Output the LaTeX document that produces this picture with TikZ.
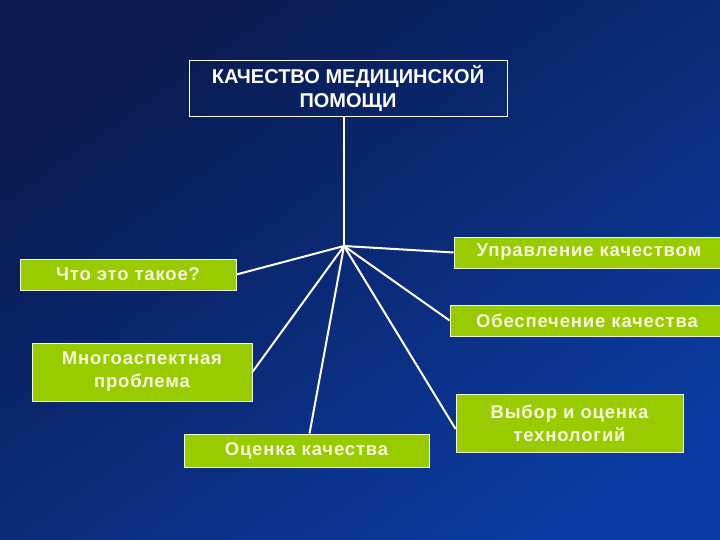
\documentclass[tikz,border=0pt]{standalone}
\usepackage{fontspec}
\setmainfont{Liberation Sans}
\newfontfamily\boxfont[LetterSpace=4.5]{Liberation Sans}
\definecolor{bgdark}{HTML}{0A1A4E}
\definecolor{bglight}{HTML}{0B3BA0}
\definecolor{leaf}{HTML}{99CC00}
\definecolor{leaftext}{HTML}{F6F6DC}
\tikzset{
  leafbox/.style={draw=white!85!leaf, line width=0.8pt, fill=leaf, text=leaftext,
    font=\boxfont\bfseries\fontsize{18.5}{23}\selectfont, align=center, inner sep=0pt},
  titlebox/.style={draw=white, line width=0.9pt, text=white,
    font=\bfseries\fontsize{20}{24}\selectfont, align=center, inner sep=0pt},
  link/.style={draw=white, line width=2pt}
}
\begin{document}
\begin{tikzpicture}[x=1pt,y=-1pt]
\shade[top color=bgdark, bottom color=bglight, shading angle=35] (0,0) rectangle (720,540);
\useasboundingbox (0,0) rectangle (720,540);
\node[titlebox, minimum width=318pt, minimum height=56pt] (top) at (348,88) {КАЧЕСТВО МЕДИЦИНСКОЙ\\ПОМОЩИ};
\coordinate (hub) at (344,246);
\node[leafbox, minimum width=270pt, minimum height=31pt] (upr) at (589,252.5) {Управление качеством};
\node[leafbox, minimum width=216pt, minimum height=31pt] (chto) at (128,274.5) {Что это такое?};
\node[leafbox, minimum width=274pt, minimum height=31pt] (obes) at (587,320.5) {Обеспечение качества};
\node[leafbox, minimum width=220pt, minimum height=58pt] (mnog) at (142,372) {Многоаспектная\\проблема};
\node[leafbox, minimum width=245pt, minimum height=33pt] (ocen) at (306.5,450.5) {Оценка качества};
\node[leafbox, minimum width=227pt, minimum height=58pt] (vyb) at (569.5,423) {Выбор и оценка\\технологий};
\draw[link] (hub |- top.south) -- (hub);
\draw[link] (hub) -- (upr.west);
\draw[link] (hub) -- (chto.east);
\draw[link] (hub) -- (obes.west);
\draw[link] (hub) -- (mnog.east);
\draw[link] (hub) -- ([xshift=3pt]ocen.north);
\draw[link] (hub) -- ([yshift=-6pt]vyb.west);
\end{tikzpicture}
\end{document}
